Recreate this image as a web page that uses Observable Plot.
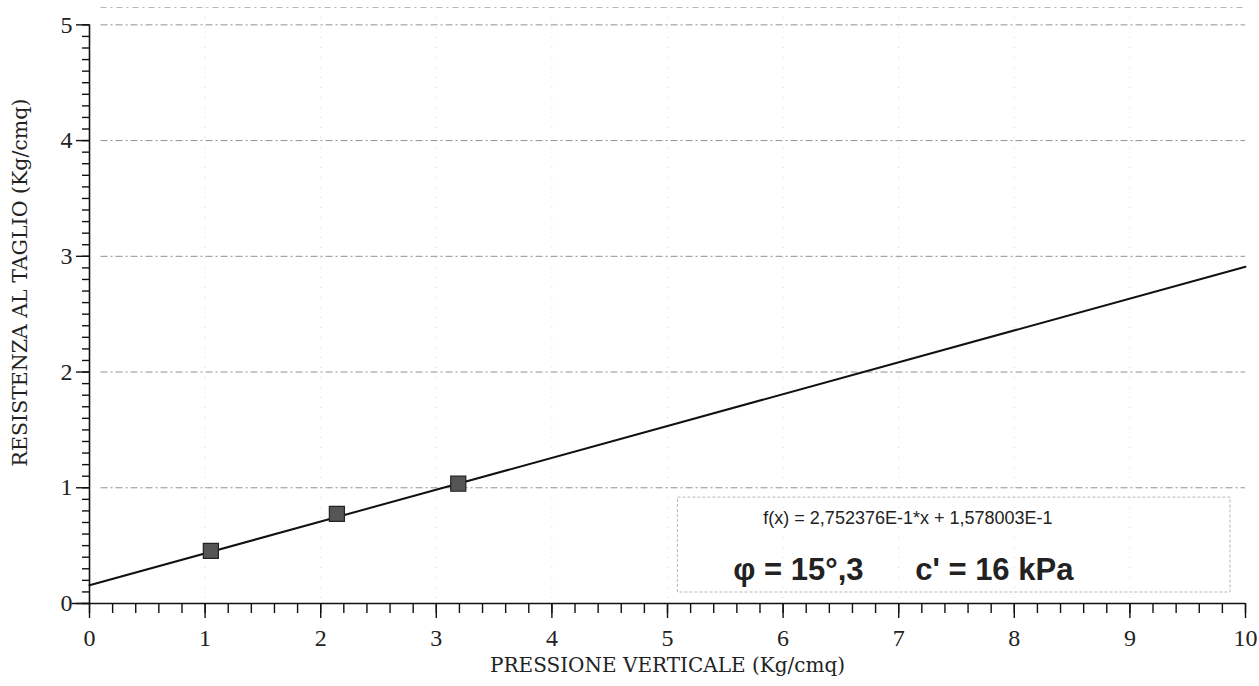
<!DOCTYPE html>
<html>
<head>
<meta charset="utf-8">
<script src="https://cdn.jsdelivr.net/npm/d3@7"></script>
<script src="https://cdn.jsdelivr.net/npm/@observablehq/plot@0.6"></script>
<style>
  html, body { margin: 0; padding: 0; background: #fff; }
</style>
</head>
<body>
<div id="chart"></div>
<script>
// Data
const pressione = [1.05, 2.14, 3.19];          // Kg/cmq
const resistenza = [0.455, 0.775, 1.035];      // Kg/cmq
const slope = 0.2752376;
const intercept = 0.1578003;
const fitX = [0, 10];
const xMajorTicks = [0, 1, 2, 3, 4, 5, 6, 7, 8, 9, 10];
const yMajorTicks = [0, 1, 2, 3, 4, 5];
const yGrid = [1, 2, 3, 4, 5];
const xGrid = [1, 2, 3, 4, 5, 6, 7, 8, 9];
const formulaText = "f(x) = 2,752376E-1*x + 1,578003E-1";
const resultText = "φ = 15°,3      c' = 16 kPa";
const xLabel = "PRESSIONE VERTICALE (Kg/cmq)";
const yLabel = "RESISTENZA AL TAGLIO (Kg/cmq)";

const points = pressione.map((x, i) => ({x, y: resistenza[i]}));
const fit = fitX.map(x => ({x, y: slope * x + intercept}));
const xMinor = d3.range(0, 10.001, 0.2).map(v => +v.toFixed(1));
const yMinor = d3.range(0, 5.001, 0.1).map(v => +v.toFixed(1));

const box = {x1: 5.09, x2: 9.87, y1: 0.095, y2: 0.915};

const serif = "'DejaVu Serif', 'Liberation Serif', serif";
const tickFont = "'Liberation Serif', serif";
const sans = "'Liberation Sans', Arial, sans-serif";

const chart = Plot.plot({
  width: 1259,
  height: 686,
  marginLeft: 89,
  marginRight: 14,
  marginTop: 7,
  marginBottom: 83,
  style: {fontFamily: serif, background: "#fff", overflow: "visible"},
  x: {domain: [0, 10], label: null},
  y: {domain: [0, 5.15], label: null},
  marks: [
    // faint vertical grid
    Plot.ruleX(xGrid, {stroke: "#bbb", strokeWidth: 1, strokeDasharray: "1,9", strokeOpacity: 0.6}),
    // horizontal dash-dot grid
    Plot.ruleY(yGrid, {x1: 0.1, x2: 10, stroke: "#777", strokeWidth: 1, strokeDasharray: "7,3,2,3", strokeOpacity: 0.8}),
    // top frame line
    Plot.ruleY([5.15], {x1: 0.1, x2: 10, stroke: "#999", strokeWidth: 1, strokeDasharray: "6,4,2,4", strokeOpacity: 0.7}),
    // annotation box
    Plot.rect([box], {x1: "x1", x2: "x2", y1: "y1", y2: "y2", fill: "none", stroke: "#888", strokeWidth: 1, strokeDasharray: "3,2", strokeOpacity: 0.6}),
    // axes lines
    Plot.ruleY([0], {x1: -0.15, x2: 10, stroke: "#111", strokeWidth: 1.6}),
    Plot.ruleX([0], {y1: 0, y2: 5, stroke: "#111", strokeWidth: 1.6}),
    // x axis minor & major ticks
    Plot.axisX(xMinor, {anchor: "bottom", tickSize: 10, tickFormat: () => "", stroke: "#111", strokeWidth: 1.4, label: null}),
    Plot.axisX(xMajorTicks, {anchor: "bottom", tickSize: 15, tickFormat: () => "", stroke: "#111", strokeWidth: 1.4, label: null}),
    // y axis minor & major ticks
    Plot.axisY(yMinor, {anchor: "left", tickSize: 7, tickFormat: () => "", stroke: "#111", strokeWidth: 1.4, label: null}),
    Plot.axisY(yMajorTicks, {anchor: "left", tickSize: 13, tickFormat: () => "", stroke: "#111", strokeWidth: 1.4, label: null}),
    // tick labels
    Plot.text(xMajorTicks, {x: d => d, y: 0, dy: 35, text: d => String(d), fontFamily: tickFont, fontSize: 24, fill: "#222", lineAnchor: "middle"}),
    Plot.text(yMajorTicks, {x: 0, y: d => d, dx: -17, text: d => String(d), textAnchor: "end", fontFamily: tickFont, fontSize: 24, fill: "#222", lineAnchor: "middle"}),
    // fitted line
    Plot.line(fit, {x: "x", y: "y", stroke: "#111", strokeWidth: 2}),
    // data points
    Plot.dot(points, {x: "x", y: "y", symbol: "square", r: 8.5, fill: "#555", stroke: "#222", strokeWidth: 1.2}),
    // annotation texts
    Plot.text([formulaText], {x: 7.08, y: 0.74, text: d => d, fontFamily: sans, fontSize: 18, fill: "#222"}),
    Plot.text([resultText], {x: 7.04, y: 0.285, text: d => d, fontFamily: sans, fontSize: 31, fontWeight: "bold", fill: "#222"}),
    // axis titles
    Plot.text([xLabel], {frameAnchor: "bottom", textAnchor: "middle", dy: 68, text: d => d, fontSize: 20, fill: "#222"}),
    Plot.text([yLabel], {frameAnchor: "left", textAnchor: "middle", dx: -69, dy: -23, rotate: -90, text: d => d, fontSize: 20.5, fill: "#222"})
  ]
});
document.getElementById("chart").appendChild(chart);
</script>
</body>
</html>
